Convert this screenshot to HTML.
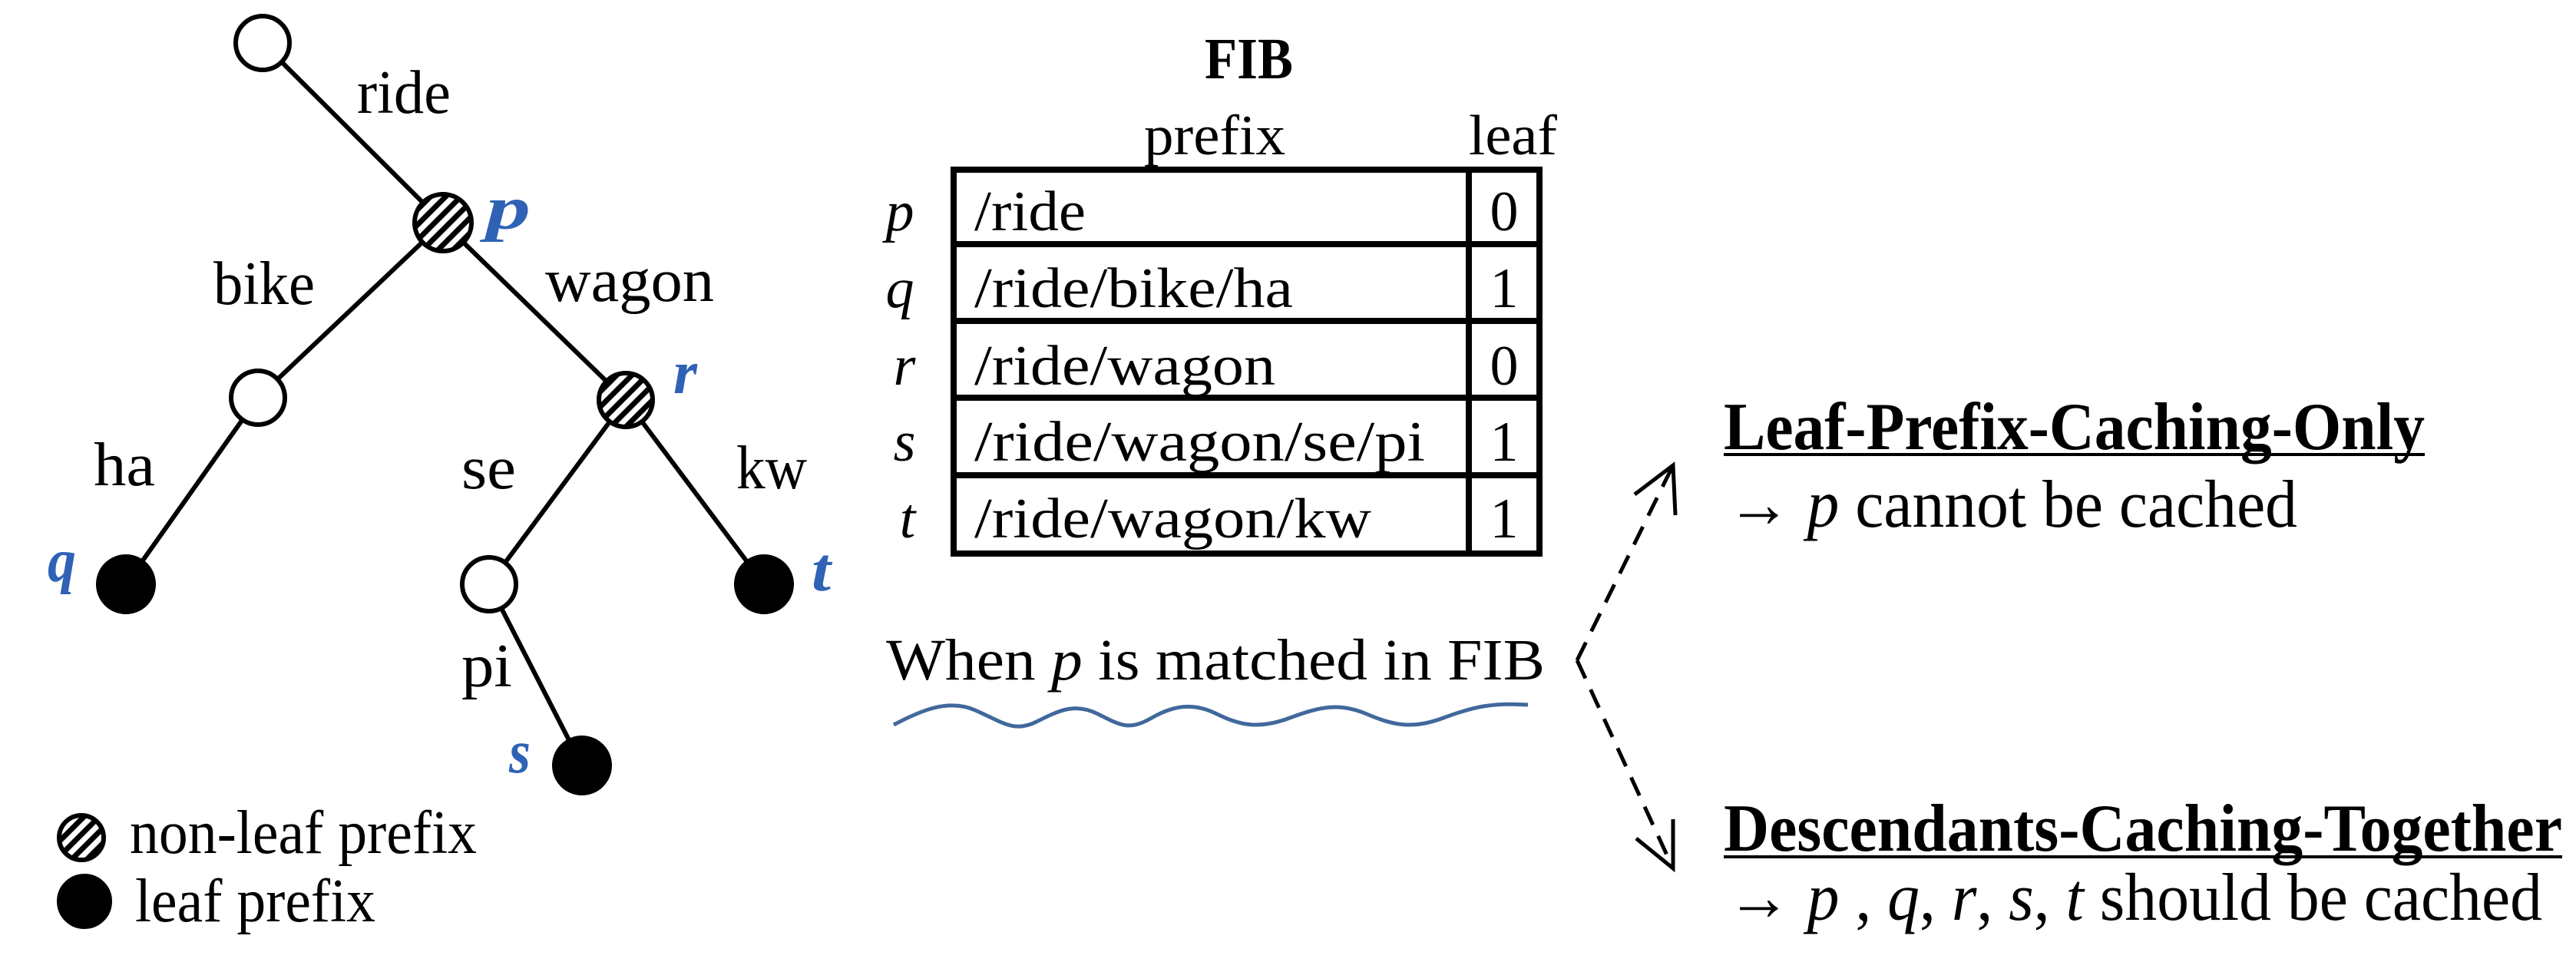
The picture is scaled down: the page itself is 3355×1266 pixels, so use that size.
<!DOCTYPE html>
<html><head><meta charset="utf-8"><style>html,body{margin:0;padding:0;background:#fff}svg{display:block}</style></head>
<body>
<svg width="3355" height="1266" viewBox="0 0 3355 1266" xmlns="http://www.w3.org/2000/svg" font-family="'Liberation Serif', serif">
<defs>
<pattern id="h" patternUnits="userSpaceOnUse" width="14" height="14" patternTransform="rotate(45)">
<rect width="14" height="14" fill="#fff"/><rect width="7" height="14" fill="#000"/>
</pattern>
</defs>
<g stroke="#000" stroke-width="6" fill="none">
<line x1="342" y1="56" x2="577" y2="290"/>
<line x1="577" y1="290" x2="336" y2="518"/>
<line x1="577" y1="290" x2="815" y2="521"/>
<line x1="336" y1="518" x2="164" y2="761"/>
<line x1="815" y1="521" x2="637" y2="761"/>
<line x1="815" y1="521" x2="995" y2="761"/>
<line x1="637" y1="761" x2="758" y2="997"/>
</g>
<g stroke="#000" stroke-width="6">
<circle cx="342" cy="56" r="35" fill="#fff"/>
<circle cx="577" cy="290" r="37" fill="url(#h)"/>
<circle cx="336" cy="518" r="35" fill="#fff"/>
<circle cx="815" cy="521" r="35" fill="url(#h)"/>
<circle cx="637" cy="761" r="35" fill="#fff"/>
<circle cx="164" cy="761" r="36" fill="#000"/>
<circle cx="995" cy="761" r="36" fill="#000"/>
<circle cx="758" cy="997" r="36" fill="#000"/>
<circle cx="106" cy="1091" r="29" fill="url(#h)"/>
<circle cx="110" cy="1174" r="33" fill="#000"/>
</g>
<g font-size="80" fill="#000">
<text x="465" y="147" textLength="122" lengthAdjust="spacingAndGlyphs">ride</text>
<text x="278" y="396" textLength="132" lengthAdjust="spacingAndGlyphs">bike</text>
<text x="710" y="392" textLength="220" lengthAdjust="spacingAndGlyphs">wagon</text>
<text x="122" y="632" textLength="80" lengthAdjust="spacingAndGlyphs">ha</text>
<text x="601" y="636" textLength="71" lengthAdjust="spacingAndGlyphs">se</text>
<text x="959" y="636" textLength="92" lengthAdjust="spacingAndGlyphs">kw</text>
<text x="601" y="894" textLength="66" lengthAdjust="spacingAndGlyphs">pi</text>
<text x="169" y="1111" textLength="452" lengthAdjust="spacingAndGlyphs">non-leaf prefix</text>
<text x="176" y="1200" textLength="313" lengthAdjust="spacingAndGlyphs">leaf prefix</text>
</g>
<g font-size="80" fill="#2f62b5" font-weight="bold" font-style="italic">
<text x="633" y="298" textLength="58" lengthAdjust="spacingAndGlyphs">p</text>
<text x="877" y="512" textLength="31" lengthAdjust="spacingAndGlyphs">r</text>
<text x="62" y="757" textLength="37" lengthAdjust="spacingAndGlyphs">q</text>
<text x="1057" y="769" textLength="25" lengthAdjust="spacingAndGlyphs">t</text>
<text x="663" y="1006" textLength="28" lengthAdjust="spacingAndGlyphs">s</text>
</g>
<text x="1569" y="102" font-size="76" font-weight="bold" textLength="115" lengthAdjust="spacingAndGlyphs">FIB</text>
<text x="1490" y="201" font-size="74" textLength="184" lengthAdjust="spacingAndGlyphs">prefix</text>
<text x="1913" y="201" font-size="74" textLength="115" lengthAdjust="spacingAndGlyphs">leaf</text>
<g stroke="#000" stroke-width="8" fill="none">
<rect x="1242" y="221" width="763" height="500"/>
<line x1="1913" y1="221" x2="1913" y2="721"/>
<line x1="1242" y1="318" x2="2005" y2="318"/>
<line x1="1242" y1="418" x2="2005" y2="418"/>
<line x1="1242" y1="518" x2="2005" y2="518"/>
<line x1="1242" y1="619" x2="2005" y2="619"/>
</g>
<g font-size="74">
<text x="1269" y="300" textLength="145" lengthAdjust="spacingAndGlyphs">/ride</text>
<text x="1269" y="400" textLength="415" lengthAdjust="spacingAndGlyphs">/ride/bike/ha</text>
<text x="1269" y="501" textLength="392" lengthAdjust="spacingAndGlyphs">/ride/wagon</text>
<text x="1269" y="600" textLength="587" lengthAdjust="spacingAndGlyphs">/ride/wagon/se/pi</text>
<text x="1269" y="700" textLength="517" lengthAdjust="spacingAndGlyphs">/ride/wagon/kw</text>
<g text-anchor="middle"><text x="1959" y="300">0</text><text x="1959" y="400">1</text><text x="1959" y="501">0</text><text x="1959" y="600">1</text><text x="1959" y="700">1</text></g>
<g font-style="italic" text-anchor="middle"><text x="1172" y="300">p</text><text x="1172" y="400">q</text><text x="1178" y="501">r</text><text x="1178" y="600">s</text><text x="1182" y="700">t</text></g>
</g>
<text x="1154" y="885" font-size="76" textLength="858" lengthAdjust="spacingAndGlyphs">When <tspan font-style="italic">p</tspan> is matched in FIB</text>
<path d="M1164,944 C1200,925 1235,910 1270,925 C1305,940 1320,955 1350,940 C1380,925 1400,915 1430,930 C1460,945 1470,952 1500,935 C1530,918 1555,915 1585,930 C1615,945 1640,950 1680,935 C1720,920 1745,915 1780,930 C1815,945 1840,950 1880,935 C1920,920 1945,915 1990,918" stroke="#41689c" stroke-width="5" fill="none"/>
<g stroke="#000" stroke-width="5" fill="none">
<path d="M2054,860 L2179,606" stroke-dasharray="26,16"/>
<path d="M2054,860 L2179,1131" stroke-dasharray="26,16"/>
<path d="M2129,644 L2179,606 L2182,671"/>
<path d="M2131,1092 L2179,1131 L2179,1067"/>
</g>
<g font-size="88">
<text x="2245" y="585" font-weight="bold" textLength="913" lengthAdjust="spacingAndGlyphs">Leaf-Prefix-Caching-Only</text>
<rect x="2245" y="590" width="913" height="4" fill="#000"/>
<text x="2249" y="686" textLength="743" lengthAdjust="spacingAndGlyphs"><tspan font-weight="bold">→</tspan> <tspan font-style="italic">p</tspan> cannot be cached</text>
<text x="2245" y="1108" font-weight="bold" textLength="1092" lengthAdjust="spacingAndGlyphs">Descendants-Caching-Together</text>
<rect x="2245" y="1114" width="1092" height="4" fill="#000"/>
<text x="2249" y="1198" textLength="1062" lengthAdjust="spacingAndGlyphs"><tspan font-weight="bold">→</tspan> <tspan font-style="italic">p</tspan> , <tspan font-style="italic">q</tspan>, <tspan font-style="italic">r</tspan>, <tspan font-style="italic">s</tspan>, <tspan font-style="italic">t</tspan> should be cached</text>
</g>
</svg>
</body></html>
